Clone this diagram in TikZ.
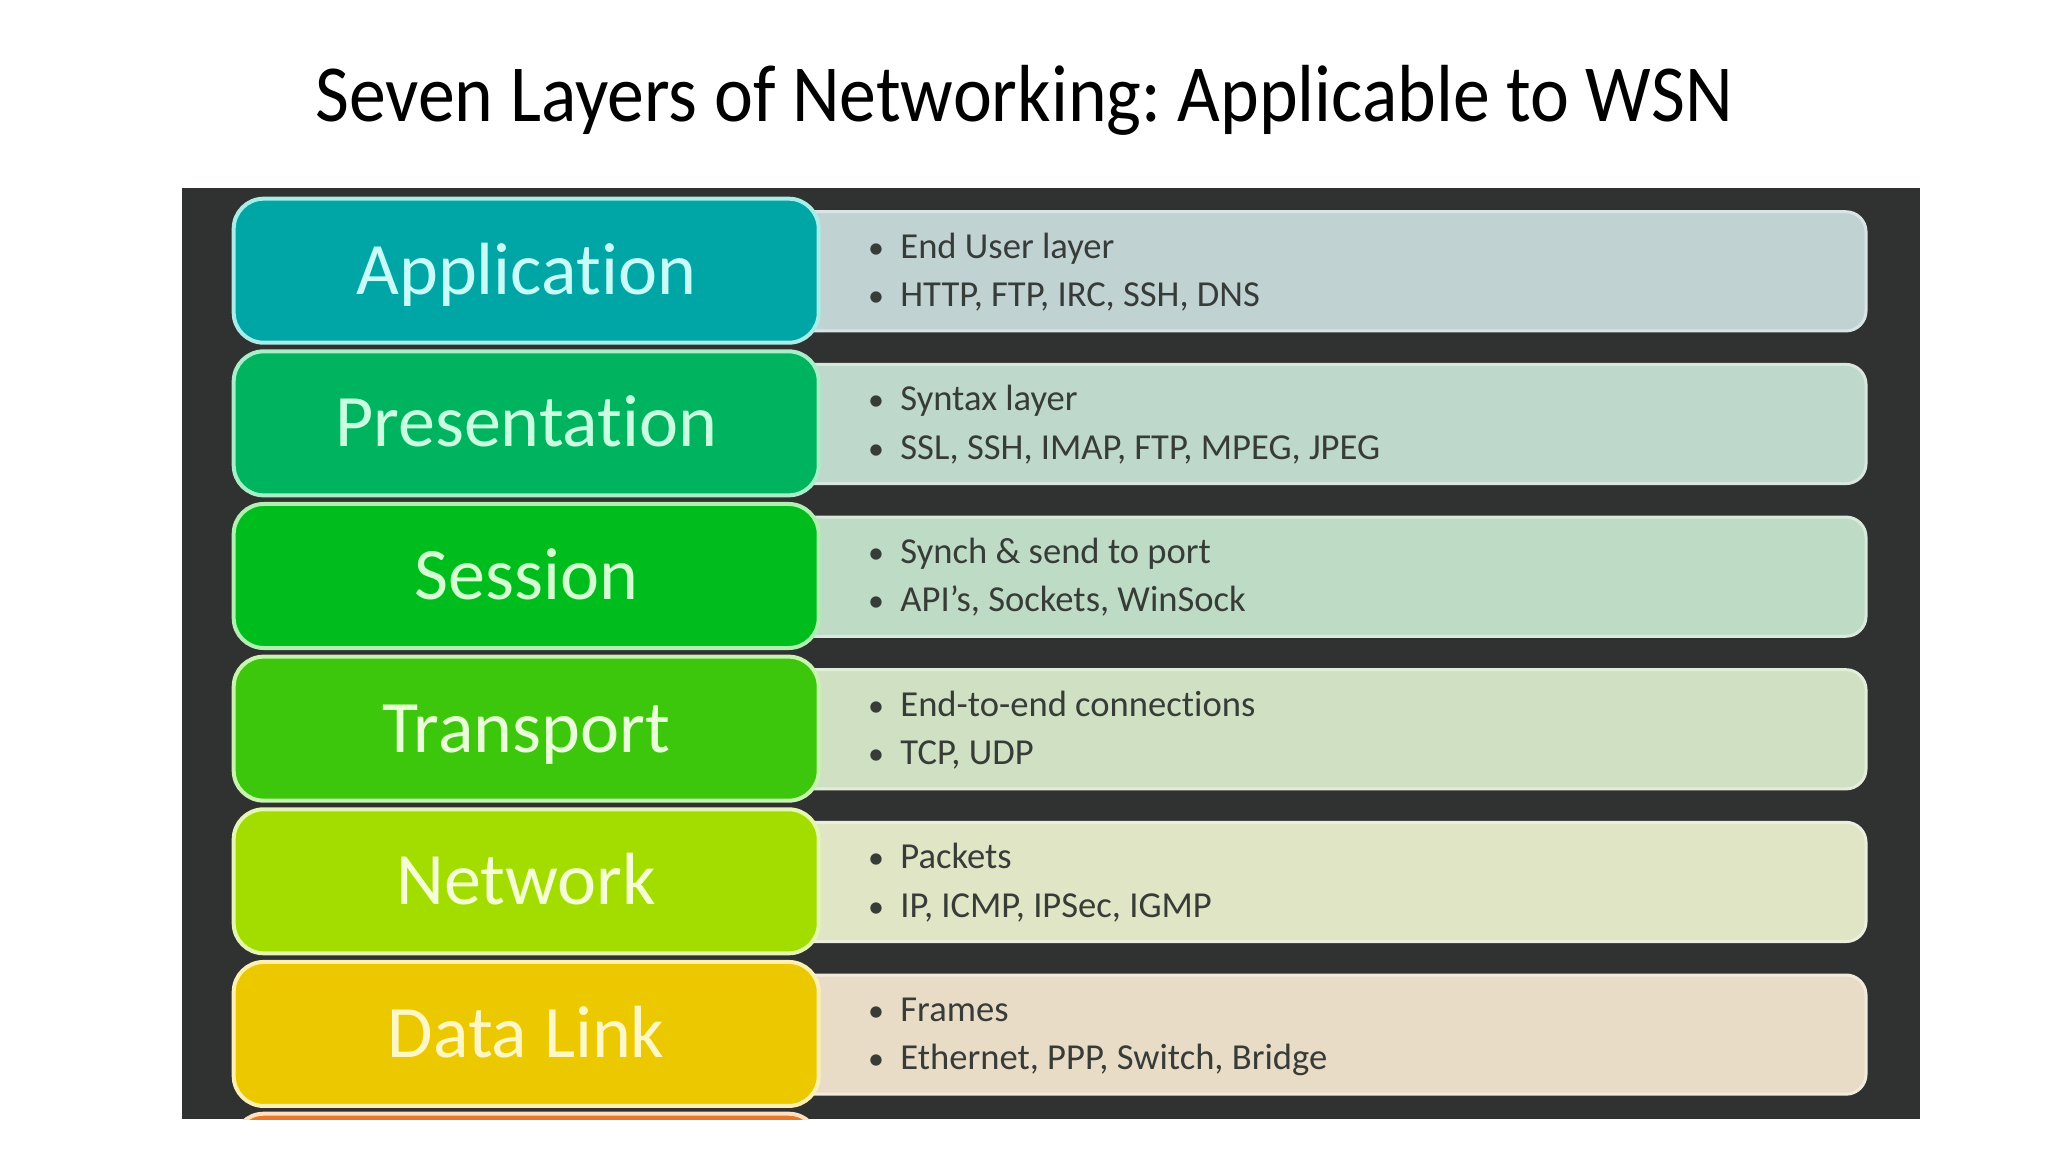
\documentclass[tikz,border=0pt]{standalone}
\usepackage{fontspec}
\setmainfont[Ligatures=NoCommon]{Carlito}
\newfontfamily\titlefont[FakeStretch=0.91,Ligatures=NoCommon]{Carlito}
\frenchspacing
\definecolor{bgdark}{HTML}{303131}
\definecolor{desctext}{HTML}{383C38}
\definecolor{appF}{HTML}{00A5A5}\definecolor{appE}{HTML}{A8EEE8}\definecolor{appT}{HTML}{C8FCF8}\definecolor{appD}{HTML}{C0D3D2}
\definecolor{preF}{HTML}{00B35F}\definecolor{preE}{HTML}{A8EEC8}\definecolor{preT}{HTML}{C8FFE0}\definecolor{preD}{HTML}{BED8CB}
\definecolor{sesF}{HTML}{00BD1E}\definecolor{sesE}{HTML}{B0F0B0}\definecolor{sesT}{HTML}{D4FFD0}\definecolor{sesD}{HTML}{BEDCC5}
\definecolor{traF}{HTML}{3DC70C}\definecolor{traE}{HTML}{C8F4B0}\definecolor{traT}{HTML}{E8FFD8}\definecolor{traD}{HTML}{CFE1C2}
\definecolor{netF}{HTML}{A3DD00}\definecolor{netE}{HTML}{E4F6B0}\definecolor{netT}{HTML}{F4FFD4}\definecolor{netD}{HTML}{E0E5C6}
\definecolor{datF}{HTML}{EBC800}\definecolor{datE}{HTML}{FFF0B0}\definecolor{datT}{HTML}{FFF8C4}\definecolor{datD}{HTML}{E9DCC7}
\definecolor{oraF}{HTML}{E8782E}\definecolor{oraE}{HTML}{FFE0C0}
\begin{document}
\begin{tikzpicture}[x=0.5bp,y=-0.5bp,
  layerbox/.style={rounded corners=15bp, line width=2bp, minimum width=292.5bp,
    minimum height=72bp, text height=23.4bp, text depth=0pt, inner sep=0pt,
    font=\fontsize{37bp}{40bp}\selectfont},
  descbox/.style={rounded corners=10bp, line width=1.5bp, minimum width=543bp,
    minimum height=59.6bp, inner sep=0pt},
  bul/.style={anchor=base, inner sep=0pt, text=desctext, font=\fontsize{16bp}{20bp}\selectfont},
  itemtxt/.style={anchor=base west, inner sep=0pt, text=desctext, font=\fontsize{18.3bp}{20bp}\selectfont}]
\useasboundingbox (0,0) rectangle (2048,1152);
\fill[white] (0,0) rectangle (2048,1152);
\node[anchor=base, inner sep=0pt, font=\titlefont\fontsize{40.5bp}{44bp}\selectfont] (title) at (1024,121.7)
  {Seven Layers of Networking: Applicable to WSN};
\node[fill=bgdark, inner sep=0pt, minimum width=868.95bp, minimum height=465.8bp] (bg) at (1050.6,653.5) {};
\foreach \i/\lname/\f/\e/\t/\d/\la/\lb in {
  0/Application/appF/appE/appT/appD/{End User layer}/{HTTP, FTP, IRC, SSH, DNS},
  1/Presentation/preF/preE/preT/preD/{Syntax layer}/{SSL, SSH, IMAP, FTP, MPEG, JPEG},
  2/Session/sesF/sesE/sesT/sesD/{Synch \& send to port}/{API’s, Sockets, WinSock},
  3/Transport/traF/traE/traT/traD/{End-to-end connections}/{TCP, UDP},
  4/Network/netF/netE/netT/netD/{Packets}/{IP, ICMP, IPSec, IGMP},
  5/Data Link/datF/datE/datT/datD/{Frames}/{Ethernet, PPP, Switch, Bridge}}{
  \pgfmathsetmacro\top{196.7+152.65*\i}
  \node[descbox, fill=\d, draw=\d!60!white] (D\i) at (1323,\top+74.65) {};
  \node[bul] (Ba\i) at (876,\top+61.6) {\textbullet};
  \node[itemtxt] (Ia\i) at (900,\top+61.6) {\la};
  \node[bul] (Bb\i) at (876,\top+110) {\textbullet};
  \node[itemtxt] (Ib\i) at (900,\top+110) {\lb};
  \node[layerbox, fill=\f, draw=\e, text=\t] (L\i) at (526.2,\top+74) {\lname};
}
\begin{scope}
  \clip (181.7,187.7) rectangle (1919.6,1119.3);
  \node[layerbox, fill=oraF, draw=oraE] (L6) at (526.2,1111.7+74) {};
\end{scope}
\end{tikzpicture}
\end{document}
